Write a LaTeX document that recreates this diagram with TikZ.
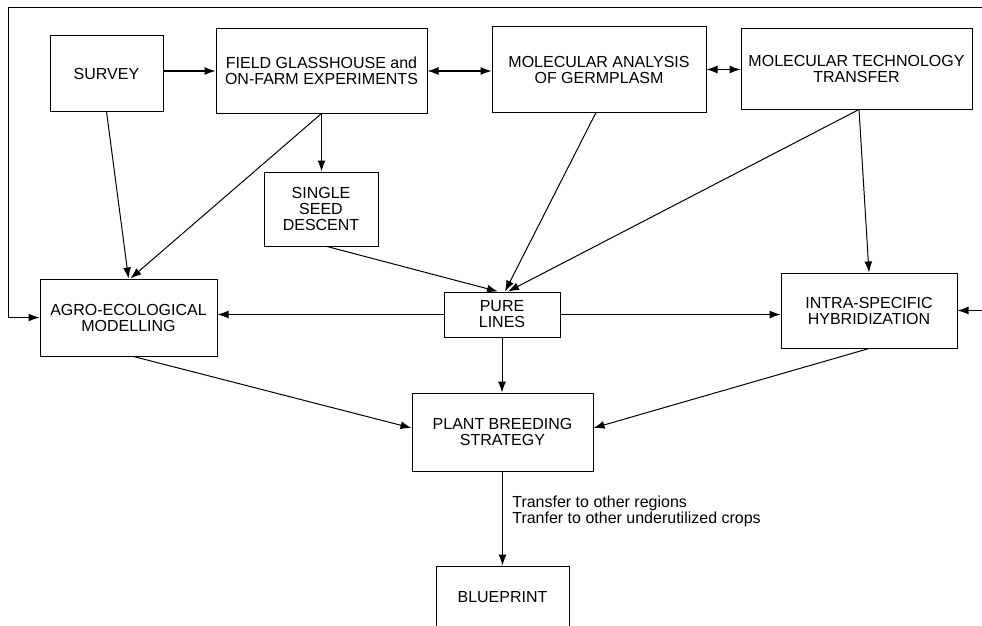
\documentclass[tikz,border=0pt]{standalone}
\usepackage{fontspec}
\setsansfont{Liberation Sans}
\usepackage{tikz}
\usetikzlibrary{arrows.meta,calc}

\begin{document}
\begin{tikzpicture}[x=1pt, y=-1pt, color=black, font=\sffamily\fontsize{16}{16}\selectfont,
		box/.style={draw, line width=1pt, inner sep=0pt, align=center},
		arr/.style={line width=1pt, -{Latex[length=11pt,width=8pt]}},
		dbl/.style={line width=1pt, {Latex[length=11pt,width=8pt]}-{Latex[length=11pt,width=8pt]}}]
		\useasboundingbox (0,0) rectangle (982,626);
		
		\node[box, minimum width=113, minimum height=75] (survey) at (106.5,73.5) {SURVEY};
		\node[box, minimum width=211, minimum height=84] (field) at (321.5,71) {FIELD GLASSHOUSE and\\ON-FARM EXPERIMENTS};
		\node[box, minimum width=214, minimum height=85] (molan) at (599,69.5) {MOLECULAR ANALYSIS\\OF GERMPLASM};
		\node[box, minimum width=231, minimum height=80] (moltech) at (856.5,69) {MOLECULAR TECHNOLOGY\\TRANSFER};
		\node[box, minimum width=114, minimum height=74] (ssd) at (321,209) {SINGLE\\SEED\\DESCENT};
		\node[box, minimum width=177, minimum height=77] (agro) at (128.5,317.5) {AGRO-ECOLOGICAL\\MODELLING};
		\node[box, minimum width=116, minimum height=45] (pure) at (502,314.5) {PURE\\LINES};
		\node[box, minimum width=176, minimum height=75] (intra) at (869,310.5) {INTRA-SPECIFIC\\HYBRIDIZATION};
		\node[box, minimum width=181, minimum height=78] (pbs) at (502.5,432) {PLANT BREEDING\\STRATEGY};
		\node[box, minimum width=133, minimum height=62] (blue) at (502.5,597) {BLUEPRINT};
		
		% feedback loops at the edges
		\coordinate (loopR) at (990,8);
		\coordinate (loopL) at (8,8);
		\coordinate (hybin) at (990,310.5);
		\draw[arr] (loopR) -- (loopL) |- (agro.west);
		\draw[arr] (hybin) -- (intra.east);
		
		\draw[arr] (field.west -| survey.east) -- (field.west);
		\draw[dbl] (field.east) -- (field.east -| molan.west);
		\draw[dbl] (molan.east) -- (molan.east -| moltech.west);
		\draw[arr] (field.south) -- (field.south |- ssd.north);
		\draw[arr] (survey.south) -- (agro.north);
		\draw[arr] (field.south) -- ([xshift=2pt]agro.north);
		\draw[arr] ([xshift=6pt]ssd.south) -- ([xshift=-4pt]pure.north);
		\draw[arr] ([xshift=-3pt]molan.south) -- ([xshift=3pt]pure.north);
		\draw[arr] ([xshift=2.5pt]moltech.south) -- ([xshift=6pt]pure.north);
		\draw[arr] ([xshift=2.5pt]moltech.south) -- (intra.north);
		\draw[arr] (pure.west) -- (pure.west -| agro.east);
		\draw[arr] (pure.east) -- (pure.east -| intra.west);
		\draw[arr] (pure.south) -- (pure.south |- pbs.north);
		\draw[arr] ([xshift=5pt]agro.south) -- ([yshift=4pt]pbs.west);
		\draw[arr] (intra.south) -- ([yshift=4pt]pbs.east);
		\draw[arr] (pbs.south) -- (blue.north)
			node[midway, right=6pt, yshift=7pt, align=left] {Transfer to other regions\\Tranfer to other underutilized crops};
	\end{tikzpicture}
\end{document}
